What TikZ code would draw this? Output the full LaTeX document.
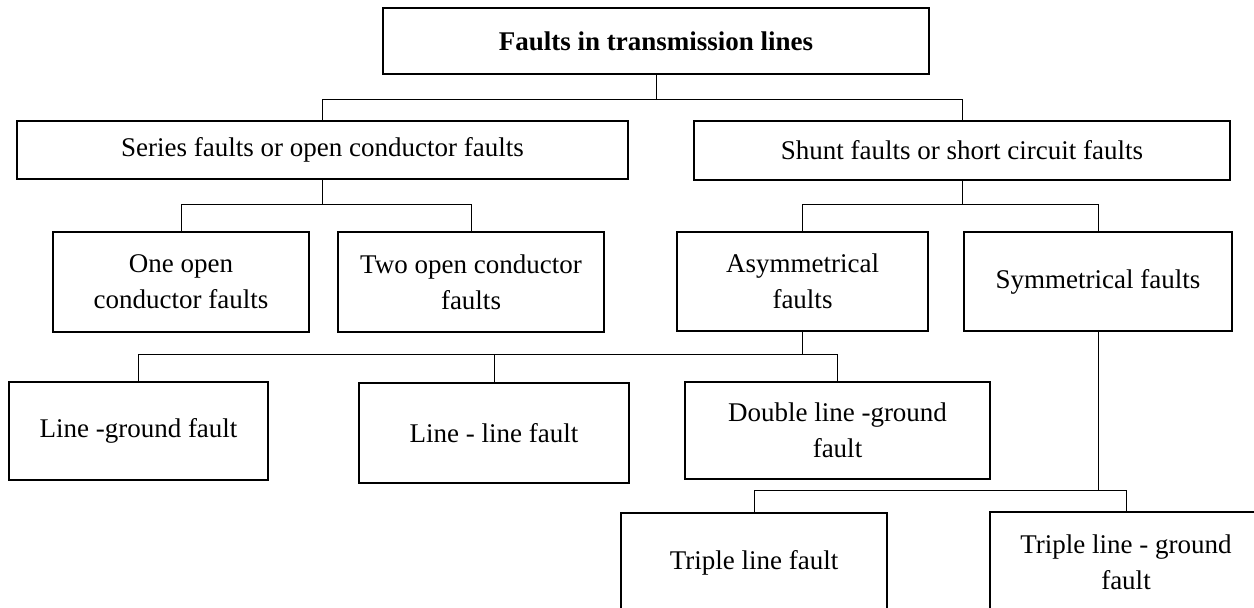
\documentclass[tikz,border=0pt]{standalone}
\usepackage{fontspec}
\setmainfont{Liberation Serif}
\usetikzlibrary{positioning}

\begin{document}
\begin{tikzpicture}[x=0.5pt, y=-0.5pt,
    fault/.style={draw, rectangle, line width=1pt, align=center, inner sep=0pt,
        font=\fontsize{13.5}{18}\selectfont},
    link/.style={line width=0.5pt}]
        \useasboundingbox (0,0) rectangle (1254,608);
        \clip (0,0) rectangle (1254,608);
        % Nodes
        \node (root) [fault, minimum width=273pt, minimum height=33pt,
            font=\fontsize{13.5}{18}\selectfont\bfseries] at (656,41) {Faults in transmission lines};
        \node (series) [fault, minimum width=305.5pt, minimum height=29pt] at (322.5,150) {Series faults or open conductor faults};
        \node (shunt) [fault, minimum width=268pt, minimum height=29.5pt] at (962,150.5) {Shunt faults or short circuit faults};
        \node (oneopen) [fault, minimum width=128pt, minimum height=50pt] at (181,282) {One open\\conductor faults};
        \node (twoopen) [fault, minimum width=133pt, minimum height=50pt, right=13.5pt of oneopen] {Two open conductor\\faults};
        \node (asym) [fault, minimum width=125.5pt, minimum height=49.5pt] at (802.5,281.5) {Asymmetrical\\faults};
        \node (sym) [fault, minimum width=134pt, minimum height=49.5pt, right=17pt of asym] {Symmetrical faults};
        \node (lg) [fault, minimum width=129.5pt, minimum height=49pt] at (138.5,431) {Line -ground fault};
        \node (ll) [fault, minimum width=135pt, minimum height=50pt] at (494,433) {Line - line fault};
        \node (dlg) [fault, minimum width=152.5pt, minimum height=48.5pt] at (837.5,430.5) {Double line -ground\\fault};
        \node (tl) [fault, minimum width=133pt, minimum height=50pt] at (754,563) {Triple line fault};
        \node (tlg) [fault, minimum width=136pt, minimum height=50pt] at (1126,562) {Triple line - ground\\fault};

        % First level
        \draw[link] (root.south) -- ++(0,25) -| (series.north);
        \draw[link] (root.south) -- ++(0,25) -| (shunt.north);

        % Series faults
        \draw[link] (series.south) -- ++(0,25) -| (oneopen.north);
        \draw[link] (series.south) -- ++(0,25) -| (twoopen.north);

        % Shunt faults
        \draw[link] (shunt.south) -- ++(0,24) -| (asym.north);
        \draw[link] (shunt.south) -- ++(0,24) -| (sym.north);

        % Asymmetrical faults
        \draw[link] (asym.south) -- ++(0,23) -| (lg.north);
        \draw[link] (asym.south) -- ++(0,23) -| (ll.north);
        \draw[link] (asym.south) -- ++(0,23) -| (dlg.north);

        % Symmetrical faults
        \draw[link] (sym.south) -- ++(0,159) -| (tl.north);
        \draw[link] (sym.south) -- ++(0,159) -| (tlg.north);
\end{tikzpicture}
\end{document}
